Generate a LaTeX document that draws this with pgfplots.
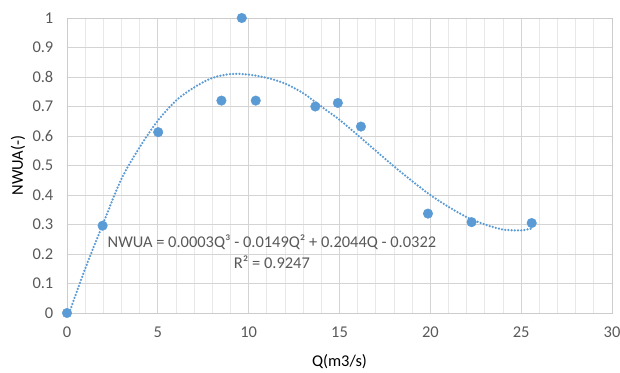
\documentclass[border=0pt]{standalone}
\usepackage{fontspec}
\setmainfont{Carlito}
\usepackage{pgfplots}
\pgfplotsset{compat=1.18}
\definecolor{xlblue}{HTML}{5B9BD5}
\definecolor{txtgray}{HTML}{595959}
\begin{document}
\fontsize{16.5}{19}\selectfont
\begin{tikzpicture}
\useasboundingbox (0,0) rectangle (620bp,373bp);
\begin{axis}[
  at={(67bp,60bp)}, anchor=south west,
  scale only axis, width=545bp, height=295bp,
  xmin=0, xmax=30, ymin=0, ymax=1,
  xtick={0,5,10,15,20,25,30},
  ytick={0,0.1,0.2,0.3,0.4,0.5,0.6,0.7,0.8,0.9,1},
  yticklabels={0,0.1,0.2,0.3,0.4,0.5,0.6,0.7,0.8,0.9,1},
  minor x tick num=4,
  grid=both,
  major grid style={color=black!17, line width=0.8bp},
  minor grid style={color=black!9, line width=0.8bp},
  major tick length=0pt, minor tick length=0pt,
  axis line style={color=black!20, line width=0.8bp},
  tick label style={font=\fontsize{16.5}{19}\selectfont, text=txtgray},
  /pgf/number format/assume math mode=true,
  xticklabel style={yshift=-8bp},
  yticklabel style={xshift=-8bp},
  xlabel={Q(m3/s)}, ylabel={NWUA(-)},
  label style={font=\fontsize{16.5}{19}\selectfont, text=txtgray},
  every axis x label/.style={at={(axis description cs:0.5,-0.166)}, anchor=center},
  every axis y label/.style={at={(axis description cs:-0.09,0.5)}, anchor=center, rotate=90},
  clip=false,
]
\addplot[xlblue, line width=2.5bp, line cap=round, dash pattern=on 0pt off 3.2bp, smooth, no marks] coordinates {
 (0.12,0.0) (1,0.15) (2,0.305) (3,0.455) (4,0.562) (5,0.652) (6,0.72) (7,0.765) (8,0.797) (9,0.81)
 (10,0.808) (11,0.797) (12,0.778) (13,0.745) (14,0.70) (15,0.655) (16,0.603) (17,0.55) (18,0.497)
 (19,0.447) (20,0.40) (21,0.36) (22,0.325) (23,0.30) (24,0.283) (25,0.28) (25.6,0.287)
};
\addplot[only marks, mark=*, mark size=4.8bp, mark options={fill=xlblue, draw=xlblue}] coordinates {
 (0,0) (1.96,0.296) (5.02,0.613) (8.5,0.72) (9.62,1.0) (10.39,0.72) (13.67,0.70)
 (14.91,0.712) (16.18,0.632) (19.87,0.337) (22.27,0.308) (25.58,0.305)
};
\node[align=center, text=txtgray, font=\fontsize{16.5}{21}\selectfont] at (axis cs:11.28,0.208)
 {NWUA = 0.0003Q³ - 0.0149Q² + 0.2044Q - 0.0322\\R² = 0.9247};
\end{axis}
\end{tikzpicture}
\end{document}
